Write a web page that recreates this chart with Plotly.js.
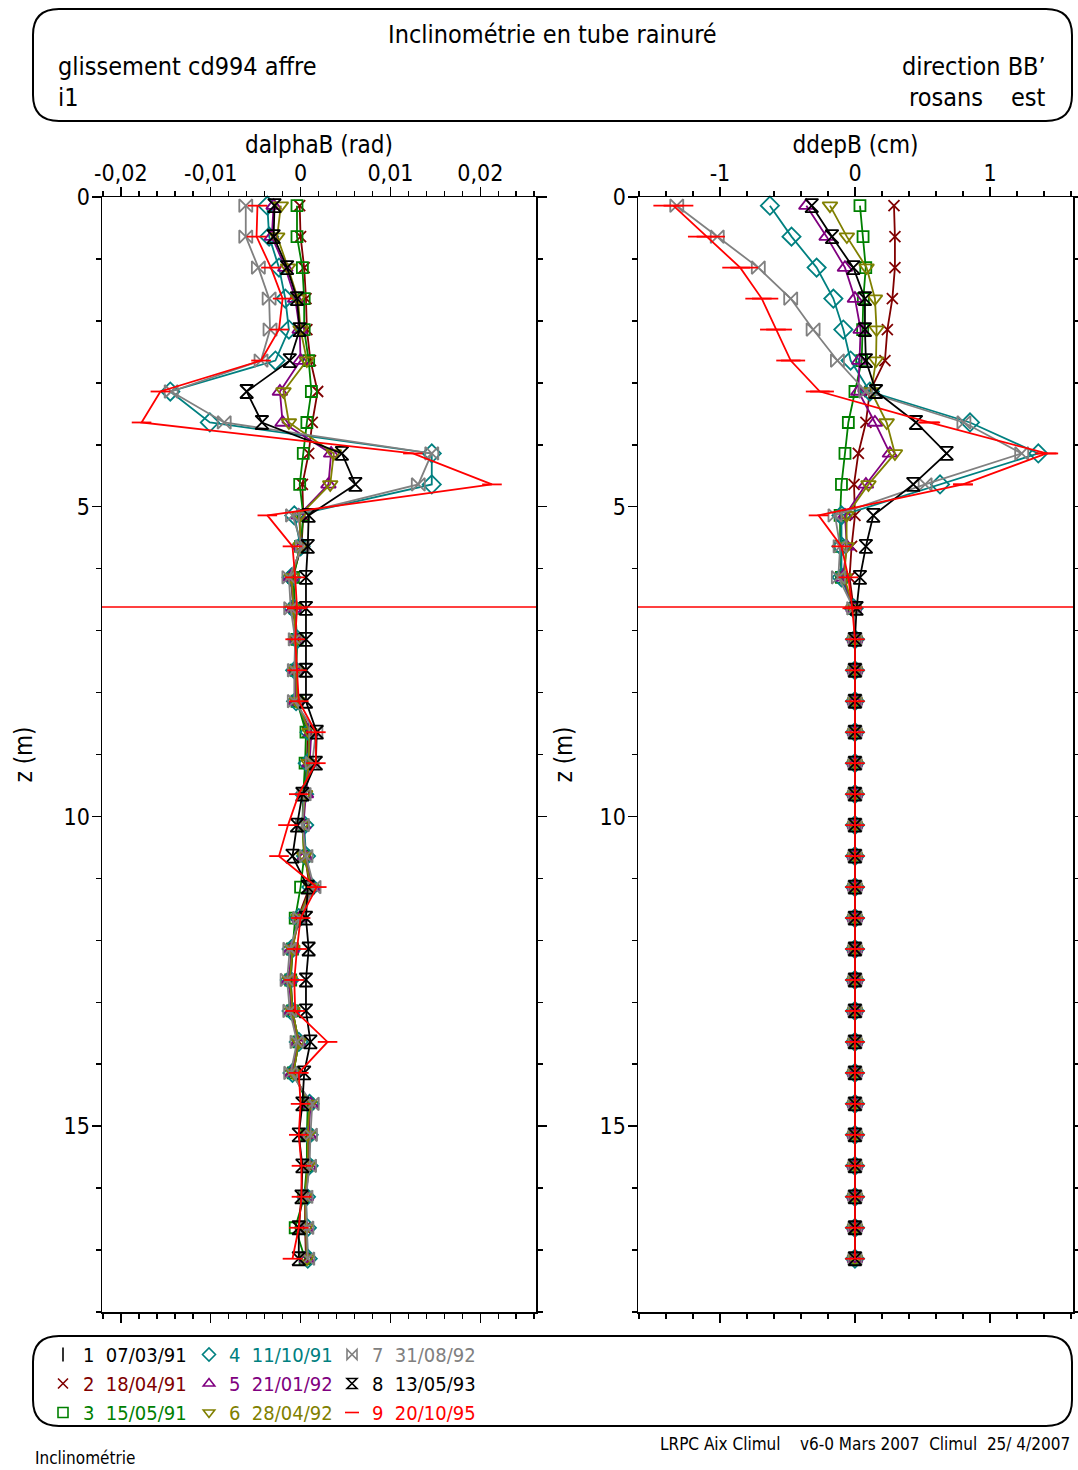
<!DOCTYPE html>
<html>
<head>
<meta charset="utf-8">
<script src="https://cdn.plot.ly/plotly-3.0.1.min.js"></script>
<style>
html,body{margin:0;padding:0;background:#fff;}
#chart{width:1078px;height:1470px;}
</style>
</head>
<body>
<div id="chart"></div>
<script>
// ---------------- DATA ----------------
const depth = [0.14,0.64,1.14,1.64,2.14,2.64,3.14,3.64,4.14,4.64,5.14,5.64,6.14,6.64,7.14,7.64,8.14,8.64,9.14,9.64,10.14,10.64,11.14,11.64,12.14,12.64,13.14,13.64,14.14,14.64,15.14,15.64,16.14,16.64,17.14];

const seriesNum = ['1','2','3','4','5','6','7','8','9'];
const seriesDates = ['07/03/91','18/04/91','15/05/91','11/10/91','21/01/92','28/04/92','31/08/92','13/05/93','20/10/95'];

// dalphaB (rad), series 2..9
const alpha2 = [-0.0001,0.0000,0.0004,0.0006,0.0007,0.0011,0.0019,0.0013,0.0009,0.0002,0.0003,0.0001,-0.0009,-0.0007,-0.0004,-0.0005,-0.0004,0.0008,0.0007,0.0004,0.0003,0.0005,0.0010,-0.0003,-0.0009,-0.0011,-0.0009,-0.0002,-0.0008,0.0009,0.0008,0.0008,0.0005,0.0005,0.0006];
const alpha3 = [-0.0004,-0.0004,0.0002,0.0004,0.0004,0.0009,0.0012,0.0007,0.0003,-0.0001,0.0003,0.0000,-0.0008,-0.0006,-0.0004,-0.0005,-0.0004,0.0006,0.0005,0.0003,0.0002,0.0004,0.0000,-0.0006,-0.0009,-0.0011,-0.0009,-0.0002,-0.0008,0.0008,0.0007,0.0007,0.0004,-0.0006,0.0005];
const alpha4 = [-0.0037,-0.0035,-0.0024,-0.0017,-0.0013,-0.0028,-0.0145,-0.0101,0.0146,0.0146,-0.0007,0.0000,-0.0010,-0.0008,-0.0004,-0.0006,-0.0005,0.0010,0.0008,0.0004,0.0004,0.0006,0.0012,-0.0002,-0.0010,-0.0012,-0.0010,-0.0002,-0.0009,0.0010,0.0009,0.0009,0.0006,0.0007,0.0008];
const alpha5 = [-0.0030,-0.0032,-0.0017,-0.0006,-0.0001,0.0000,-0.0023,-0.0020,0.0034,0.0031,-0.0002,0.0001,-0.0011,-0.0008,-0.0005,-0.0006,-0.0005,0.0012,0.0010,0.0006,0.0003,0.0005,0.0013,-0.0001,-0.0010,-0.0013,-0.0010,-0.0003,-0.0009,0.0011,0.0009,0.0009,0.0006,0.0006,0.0007];
const alpha6 = [-0.0022,-0.0026,-0.0014,-0.0003,0.0000,0.0007,-0.0019,-0.0013,0.0037,0.0033,-0.0001,0.0000,-0.0010,-0.0008,-0.0005,-0.0005,-0.0004,0.0010,0.0009,0.0005,0.0002,0.0004,0.0012,-0.0002,-0.0009,-0.0012,-0.0009,-0.0002,-0.0008,0.0010,0.0008,0.0008,0.0005,0.0006,0.0007];
const alpha7 = [-0.0061,-0.0061,-0.0047,-0.0035,-0.0034,-0.0044,-0.0144,-0.0085,0.0146,0.0131,-0.0009,0.0002,-0.0013,-0.0011,-0.0006,-0.0007,-0.0007,0.0017,0.0013,0.0004,0.0002,0.0006,0.0015,-0.0001,-0.0012,-0.0015,-0.0012,-0.0004,-0.0011,0.0013,0.0011,0.0010,0.0006,0.0007,0.0008];
const alpha8 = [-0.0029,-0.0030,-0.0015,-0.0004,-0.0001,-0.0012,-0.0060,-0.0043,0.0046,0.0061,0.0009,0.0008,0.0006,0.0006,0.0006,0.0006,0.0006,0.0018,0.0017,0.0002,-0.0004,-0.0009,0.0008,0.0006,0.0009,0.0006,0.0006,0.0011,0.0004,0.0002,-0.0002,0.0002,0.0001,-0.0002,-0.0002];
const alpha9 = [-0.0048,-0.0049,-0.0033,-0.0020,-0.0024,-0.0044,-0.0156,-0.0177,0.0125,0.0213,-0.0037,-0.0009,-0.0006,-0.0004,-0.0006,-0.0004,-0.0002,0.0017,0.0017,-0.0002,-0.0014,-0.0024,0.0018,0.0000,-0.0004,-0.0007,-0.0006,0.0030,-0.0002,0.0000,-0.0002,0.0001,0.0001,-0.0002,-0.0009];

// ddepB (cm), series 2..9
const dep2 = [0.289,0.296,0.296,0.277,0.240,0.222,0.110,0.081,0.025,-0.007,0.000,-0.025,-0.040,-0.010,0,0,0,0,0,0,0,0,0,0,0,0,0,0,0,0,0,0,0,0,0];
const dep3 = [0.037,0.060,0.080,0.062,0.057,0.050,0.000,-0.049,-0.074,-0.100,-0.110,-0.110,-0.100,-0.010,0,0,0,0,0,0,0,0,0,0,0,0,0,0,0,0,0,0,0,0,0];
const dep4 = [-0.630,-0.470,-0.284,-0.160,-0.086,-0.032,0.110,0.852,1.358,0.630,-0.100,-0.100,-0.100,-0.010,0,0,0,0,0,0,0,0,0,0,0,0,0,0,0,0,0,0,0,0,0];
const dep5 = [-0.360,-0.210,-0.074,0.000,0.042,0.032,0.025,0.148,0.259,0.081,-0.074,-0.060,-0.090,-0.010,0,0,0,0,0,0,0,0,0,0,0,0,0,0,0,0,0,0,0,0,0];
const dep6 = [-0.185,-0.060,0.086,0.148,0.160,0.156,0.120,0.235,0.296,0.100,-0.062,-0.062,-0.080,-0.010,0,0,0,0,0,0,0,0,0,0,0,0,0,0,0,0,0,0,0,0,0];
const dep7 = [-1.320,-1.020,-0.716,-0.476,-0.310,-0.130,0.080,0.807,1.235,0.520,-0.148,-0.110,-0.123,-0.010,0,0,0,0,0,0,0,0,0,0,0,0,0,0,0,0,0,0,0,0,0];
const dep8 = [-0.320,-0.170,-0.012,0.074,0.074,0.081,0.156,0.452,0.679,0.432,0.136,0.081,0.037,0.012,0,0,0,0,0,0,0,0,0,0,0,0,0,0,0,0,0,0,0,0,0];
const dep9 = [-1.345,-1.100,-0.850,-0.690,-0.585,-0.476,-0.260,0.550,1.420,0.800,-0.270,-0.100,-0.049,-0.020,0,0,0,0,0,0,0,0,0,0,0,0,0,0,0,0,0,0,0,0,0];
// horizontal bar half-width on series 9 (ddepB), cm
const err9 = [0.148,0.137,0.133,0.122,0.118,0.107,0.104,0.081,0.085,0.074,0,0,0,0,0,0,0,0,0,0,0,0,0,0,0,0,0,0,0,0,0,0,0,0,0];

const refDepth = 6.62;

const xTicks1 = [-0.02,-0.01,0,0.01,0.02];
const xTickText1 = ['-0,02','-0,01','0','0,01','0,02'];
const xTicks2 = [-1,0,1];
const xTickText2 = ['-1','0','1'];
const yTicks = [0,5,10,15];
const yTickText = ['0','5','10','15'];

// ---------------- STYLE ----------------
const W = 1078, H = 1470;
const FONT = '"Liberation Sans Narrow", "Arial Narrow", "DejaVu Sans Condensed", sans-serif';
const colors = ['#000000','#800000','#008000','#008080','#800080','#808000','#808080','#000000','#ff0000'];
const symbols = ['line-ns-open','x-thin-open','square-open','diamond-open','triangle-up-open','triangle-down-open','bowtie-open','hourglass-open','line-ew-open'];
const sizes = [11,11,11,14,13,13,13,13,14];

const alphaSeries = [null, alpha2, alpha3, alpha4, alpha5, alpha6, alpha7, alpha8, alpha9];
const depSeries = [null, dep2, dep3, dep4, dep5, dep6, dep7, dep8, dep9];

const traces = [];
for (let i = 1; i < 9; i++) {
  traces.push({
    type:'scatter', mode:'lines+markers', x: alphaSeries[i], y: depth, xaxis:'x', yaxis:'y',
    line:{color:colors[i], width:1.8},
    marker:{symbol:symbols[i], size:sizes[i], color:colors[i], line:{color:colors[i], width:1.8}},
    showlegend:false, hoverinfo:'skip', cliponaxis:false
  });
}
for (let i = 1; i < 9; i++) {
  const t = {
    type:'scatter', mode:'lines+markers', x: depSeries[i], y: depth, xaxis:'x2', yaxis:'y2',
    line:{color:colors[i], width:1.8},
    marker:{symbol:symbols[i], size:sizes[i], color:colors[i], line:{color:colors[i], width:1.8}},
    showlegend:false, hoverinfo:'skip', cliponaxis:false
  };
  if (i === 8) t.error_x = {type:'data', array: err9, visible:true, width:0, thickness:1.8, color:colors[8]};
  traces.push(t);
}
// legend entries (3 columns)
const legNames = ['legend','legend','legend','legend2','legend2','legend2','legend3','legend3','legend3'];
for (let i = 0; i < 9; i++) {
  traces.push({
    type:'scatter', mode:'markers', x:[null], y:[null], xaxis:'x', yaxis:'y',
    name: '<span style="color:' + colors[i] + '">' + seriesNum[i] + '\u00a0\u00a0' + seriesDates[i] + '</span>',
    marker:{symbol:symbols[i], size:10, color:colors[i], line:{color:colors[i], width:1.6}},
    legend: legNames[i], showlegend:true, hoverinfo:'skip'
  });
}

function px(v){return (v/W).toFixed(5);}
function py(v){return (1 - v/H).toFixed(5);}
function rr(x0,y0,x1,y1,r){
  return 'M'+px(x0+r)+','+py(y0)+' L'+px(x1-r)+','+py(y0)+' Q'+px(x1)+','+py(y0)+' '+px(x1)+','+py(y0+r)+
    ' L'+px(x1)+','+py(y1-r)+' Q'+px(x1)+','+py(y1)+' '+px(x1-r)+','+py(y1)+
    ' L'+px(x0+r)+','+py(y1)+' Q'+px(x0)+','+py(y1)+' '+px(x0)+','+py(y1-r)+
    ' L'+px(x0)+','+py(y0+r)+' Q'+px(x0)+','+py(y0)+' '+px(x0+r)+','+py(y0)+' Z';
}

const yDom = [1-1312/H, 1-197/H];
function xAxis(dom, range, tv, tt, minorD, title, anchor){
  return {
    domain: dom, range: range, side:'top', anchor: anchor,
    tickmode:'array', tickvals: tv, ticktext: tt,
    ticks:'outside', ticklen:9, tickwidth:1.5, tickcolor:'#000',
    showline:true, linewidth:1.5, linecolor:'#000', mirror:'ticks',
    showgrid:false, zeroline:false, ticklabelstandoff:-4,
    minor:{tickmode:'linear', tick0:0, dtick:minorD, ticks:'outside', ticklen:5, tickwidth:1.5, tickcolor:'#000', showgrid:false},
    tickfont:{family:FONT, size:23, color:'#000'},
    title:{text:title, font:{family:FONT, size:24, color:'#000'}, standoff:0}
  };
}
function yAxis(dom, anchor, st){
  return {
    domain: yDom, range:[18,0], anchor: anchor,
    tickmode:'array', tickvals: yTicks, ticktext: yTickText,
    ticks:'outside', ticklen:9, tickwidth:1.5, tickcolor:'#000',
    showline:true, linewidth:1.5, linecolor:'#000', mirror:'ticks',
    showgrid:false, zeroline:false, ticklabelstandoff:-3,
    minor:{tickmode:'linear', tick0:0, dtick:1, ticks:'outside', ticklen:5, tickwidth:1.5, tickcolor:'#000', showgrid:false},
    tickfont:{family:FONT, size:23, color:'#000'},
    title:{text:'z (m)', font:{family:FONT, size:24, color:'#000'}, standoff:st}
  };
}

const legBase = {yanchor:'top', xanchor:'left', y: 1-1335/H, bgcolor:'rgba(0,0,0,0)', borderwidth:0,
  font:{family:FONT, size:20, color:'#000'}, tracegroupgap:0, itemclick:false, itemdoubleclick:false};

const layout = {
  width: W, height: H, margin:{l:0,r:0,t:0,b:0},
  paper_bgcolor:'#fff', plot_bgcolor:'#fff',
  font:{family:FONT, color:'#000'},
  xaxis: xAxis([102/W, 536/W], [-0.0221, 0.0262], xTicks1, xTickText1, 0.002, 'dalphaB (rad)', 'y'),
  yaxis: yAxis(yDom, 'x', 24),
  xaxis2: xAxis([638/W, 1073/W], [-1.607, 1.615], xTicks2, xTickText2, 0.2, 'ddepB (cm)', 'y2'),
  yaxis2: yAxis(yDom, 'x2', 20),
  legend: Object.assign({}, legBase, {x: 43/W}),
  legend2: Object.assign({}, legBase, {x: 189/W}),
  legend3: Object.assign({}, legBase, {x: 332/W}),
  shapes: [
    {type:'path', xref:'paper', yref:'paper', path: rr(33,9,1072,121,26), line:{color:'#000', width:2}},
    {type:'path', xref:'paper', yref:'paper', path: rr(33,1336,1072,1426,26), line:{color:'#000', width:2}},
    {type:'line', xref:'x domain', yref:'y', x0:0, x1:1, y0:refDepth, y1:refDepth, line:{color:'#ff0000', width:1.5}},
    {type:'line', xref:'x2 domain', yref:'y2', x0:0, x1:1, y0:refDepth, y1:refDepth, line:{color:'#ff0000', width:1.5}}
  ],
  annotations: [
    {xref:'paper', yref:'paper', x:552/W, y:py(34), xanchor:'center', yanchor:'middle', showarrow:false,
     text:'Inclinométrie en tube rainuré', font:{family:FONT, size:25, color:'#000'}},
    {xref:'paper', yref:'paper', x:56/W, y:py(66), xanchor:'left', yanchor:'middle', showarrow:false,
     text:'glissement cd994 affre', font:{family:FONT, size:25, color:'#000'}},
    {xref:'paper', yref:'paper', x:56/W, y:py(97), xanchor:'left', yanchor:'middle', showarrow:false,
     text:'i1', font:{family:FONT, size:25, color:'#000'}},
    {xref:'paper', yref:'paper', x:1048/W, y:py(66), xanchor:'right', yanchor:'middle', showarrow:false,
     text:'direction BB\u2019', font:{family:FONT, size:25, color:'#000'}},
    {xref:'paper', yref:'paper', x:985/W, y:py(97), xanchor:'right', yanchor:'middle', showarrow:false,
     text:'rosans', font:{family:FONT, size:25, color:'#000'}},
    {xref:'paper', yref:'paper', x:1048/W, y:py(97), xanchor:'right', yanchor:'middle', showarrow:false,
     text:'est', font:{family:FONT, size:25, color:'#000'}},
    {xref:'paper', yref:'paper', x:1072/W, y:py(1444), xanchor:'right', yanchor:'middle', showarrow:false,
     text:'LRPC Aix Climul\u00a0\u00a0\u00a0\u00a0v6-0 Mars 2007\u00a0\u00a0Climul\u00a0\u00a025/ 4/2007', font:{family:FONT, size:17, color:'#000'}},
    {xref:'paper', yref:'paper', x:33/W, y:py(1458), xanchor:'left', yanchor:'middle', showarrow:false,
     text:'Inclinométrie', font:{family:FONT, size:17, color:'#000'}}
  ],
  hovermode:false
};

Plotly.newPlot('chart', traces, layout, {staticPlot:true, displayModeBar:false});
</script>
</body>
</html>
